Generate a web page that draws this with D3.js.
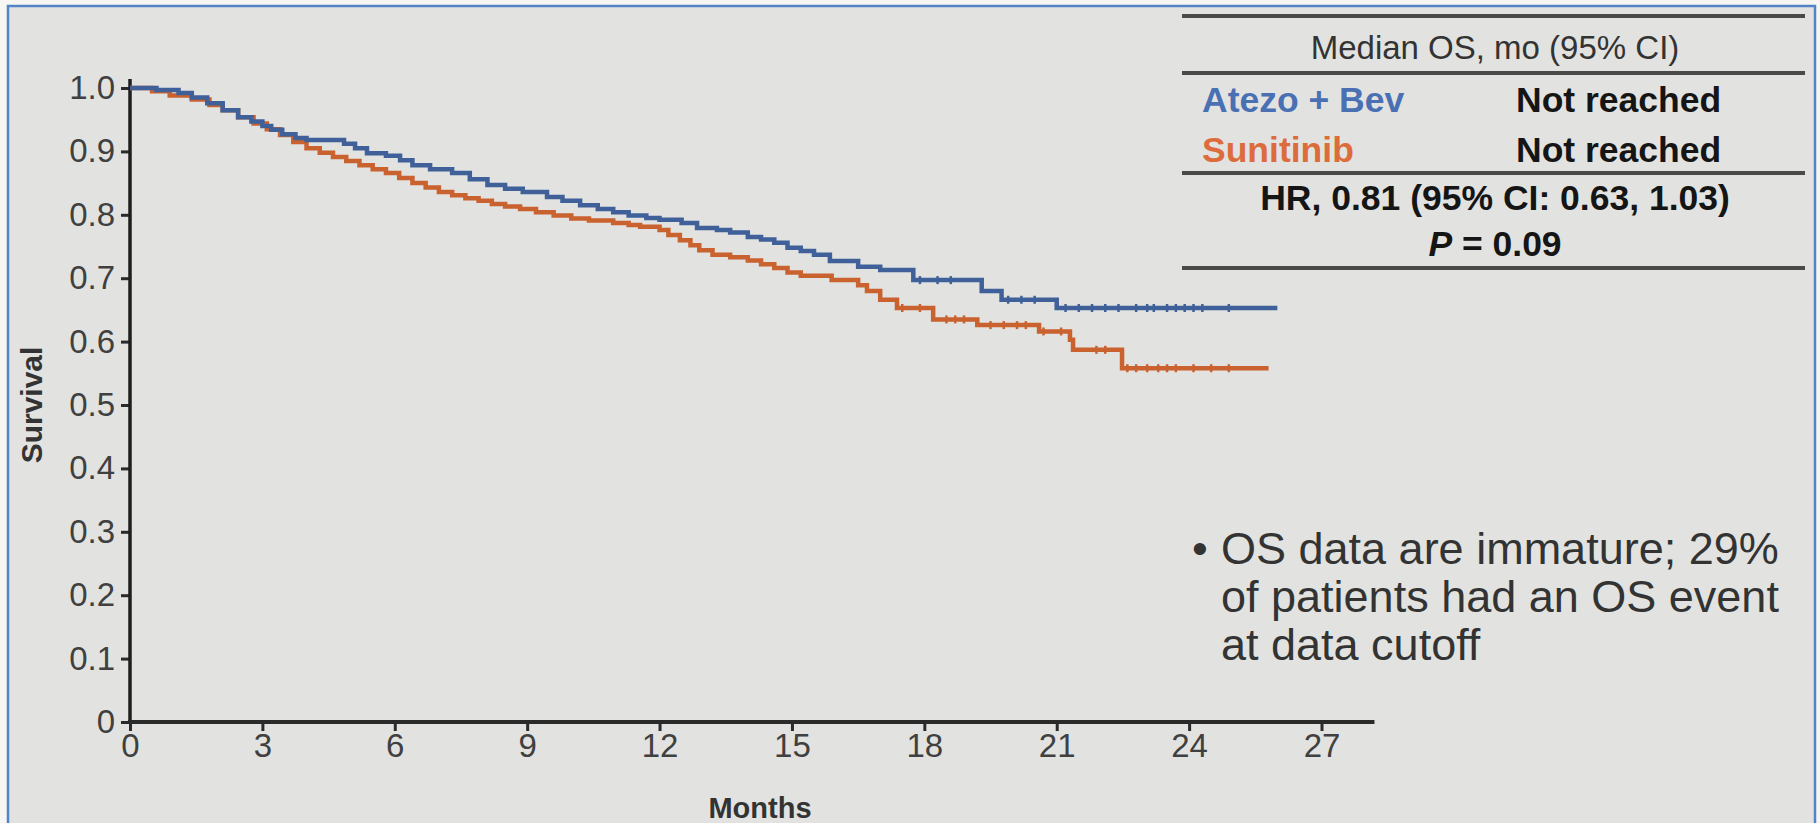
<!DOCTYPE html>
<html>
<head>
<meta charset="utf-8">
<script src="https://cdn.jsdelivr.net/npm/d3@7"></script>
<style>
  html, body { margin: 0; padding: 0; background: #f7f6f2; }
  svg { display: block; font-family: "Liberation Sans", Arial, Helvetica, sans-serif; }
</style>
</head>
<body>
<svg id="chart" width="1820" height="823"></svg>
<script>
// ---- Axis ticks ----
const monthTicks = [0, 3, 6, 9, 12, 15, 18, 21, 24, 27];
const survivalTicks = [0, 0.1, 0.2, 0.3, 0.4, 0.5, 0.6, 0.7, 0.8, 0.9, 1.0];

// ---- Kaplan-Meier step points: [month, survival] ----
const atezoBevSteps = [
  [0, 1.0], [0.6, 0.997], [1.1, 0.992], [1.4, 0.985], [1.75, 0.976], [2.1, 0.965],
  [2.45, 0.954], [2.75, 0.947], [3.0, 0.94], [3.2, 0.934], [3.45, 0.927], [3.75, 0.921],
  [4.0, 0.918], [4.85, 0.912], [5.1, 0.905], [5.37, 0.897], [5.8, 0.893], [6.12, 0.886],
  [6.4, 0.878], [6.8, 0.872], [7.3, 0.866], [7.7, 0.856], [8.1, 0.847], [8.5, 0.841],
  [8.9, 0.836], [9.45, 0.828], [9.8, 0.822], [10.2, 0.815], [10.6, 0.809], [10.95, 0.804],
  [11.3, 0.799], [11.7, 0.795], [12.0, 0.792], [12.5, 0.787], [12.85, 0.779], [13.3, 0.776],
  [13.6, 0.772], [14.0, 0.765], [14.3, 0.761], [14.6, 0.756], [14.9, 0.748], [15.2, 0.743],
  [15.5, 0.737], [15.86, 0.727], [16.5, 0.718], [17.0, 0.713], [17.75, 0.697], [19.3, 0.68],
  [19.75, 0.666], [21.0, 0.653]
];
const atezoBevLastFollowUp = 26.0;

const sunitinibSteps = [
  [0, 1.0], [0.5, 0.995], [0.9, 0.988], [1.4, 0.982], [1.8, 0.973], [2.1, 0.965],
  [2.45, 0.954], [2.8, 0.944], [3.1, 0.935], [3.4, 0.926], [3.7, 0.915], [4.0, 0.905],
  [4.3, 0.898], [4.6, 0.891], [4.9, 0.885], [5.2, 0.878], [5.5, 0.872], [5.8, 0.866],
  [6.1, 0.858], [6.4, 0.85], [6.7, 0.843], [7.0, 0.836], [7.3, 0.831], [7.6, 0.826],
  [7.9, 0.822], [8.2, 0.817], [8.5, 0.813], [8.84, 0.809], [9.2, 0.804], [9.6, 0.799],
  [10.0, 0.794], [10.4, 0.791], [10.95, 0.787], [11.3, 0.784], [11.56, 0.781], [12.0, 0.776],
  [12.2, 0.768], [12.46, 0.76], [12.7, 0.752], [12.9, 0.744], [13.2, 0.737], [13.6, 0.733],
  [14.0, 0.728], [14.3, 0.722], [14.6, 0.716], [14.9, 0.709], [15.2, 0.704], [15.9, 0.697],
  [16.5, 0.689], [16.7, 0.68], [17.0, 0.666], [17.38, 0.653], [18.2, 0.635], [19.2, 0.626],
  [20.6, 0.616], [21.3, 0.603], [21.37, 0.587], [22.48, 0.558]
];
const sunitinibLastFollowUp = 25.8;

// ---- Censoring times (months) ----
const atezoBevCensored = [17.9, 18.3, 18.6, 19.9, 20.2, 20.5, 21.2, 21.5, 21.8, 22.1, 22.4,
  22.8, 23.05, 23.2, 23.5, 23.7, 23.9, 24.1, 24.3, 24.9];
const sunitinibCensored = [17.5, 17.9, 18.5, 18.7, 18.9, 19.5, 19.8, 20.1, 20.3, 20.7, 21.1,
  21.9, 22.1, 22.6, 22.8, 23.05, 23.3, 23.5, 23.7, 24.1, 24.5, 24.9];

// ---- Table and note text ----
const tableHeader = "Median OS, mo (95% CI)";
const armNames = ["Atezo + Bev", "Sunitinib"];
const armMedians = ["Not reached", "Not reached"];
const hazardRatioText = "HR, 0.81 (95% CI: 0.63, 1.03)";
const pValueText = "0.09";
const noteLines = ["OS data are immature; 29%", "of patients had an OS event", "at data cutoff"];

const armColors = ["#3f6099", "#c9622f"];
const armLabelColors = ["#4a70b4", "#dd6c3c"];

const svg = d3.select("#chart");

// panel background and frame
svg.append("rect").attr("x", 8).attr("y", 6).attr("width", 1807).attr("height", 840)
  .attr("fill", "#e2e3e0").attr("stroke", "#5284c7").attr("stroke-width", 2.5);

const x = d3.scaleLinear().domain([0, 27]).range([130, 1321.5]);
const y = d3.scaleLinear().domain([0, 1]).range([722, 88]);

// ---- Axes ----
const xAxis = d3.axisBottom(x).tickValues(monthTicks).tickSize(9).tickPadding(3).tickSizeOuter(0);
const yAxis = d3.axisLeft(y).tickValues(survivalTicks).tickSize(9).tickPadding(6).tickSizeOuter(0)
  .tickFormat(d => d === 0 ? "0" : d3.format(".1f")(d));

const gx = svg.append("g").attr("transform", `translate(0,${y(0)})`).call(xAxis);
const gy = svg.append("g").attr("transform", `translate(${x(0)},0)`).call(yAxis);
[gx, gy].forEach(g => {
  g.select(".domain").remove();
  g.selectAll(".tick line").attr("stroke", "#2a2a2a").attr("stroke-width", 3);
  g.selectAll(".tick text").attr("fill", "#404040").attr("font-size", 33)
    .attr("font-family", "Liberation Sans, Arial, sans-serif");
});

// axis lines (the y axis runs slightly above 1.0, the x axis past 27)
svg.append("line").attr("x1", x(0)).attr("x2", x(0)).attr("y1", y(0)).attr("y2", y(1) - 9)
  .attr("stroke", "#1e1e1e").attr("stroke-width", 3.5);
svg.append("line").attr("x1", x(0) - 2).attr("x2", x(28.2)).attr("y1", y(0)).attr("y2", y(0))
  .attr("stroke", "#2a2a2a").attr("stroke-width", 4);

// axis titles
svg.append("text").attr("transform", `translate(31,${y(0.5)}) rotate(-90)`)
  .attr("text-anchor", "middle").attr("dominant-baseline", "central")
  .attr("font-size", 30).attr("font-weight", "bold").attr("fill", "#333").text("Survival");
svg.append("text").attr("x", 760).attr("y", 818)
  .attr("text-anchor", "middle").attr("font-size", 29).attr("font-weight", "bold").attr("fill", "#333")
  .text("Months");

// ---- Curves ----
const line = d3.line().x(d => x(d[0])).y(d => y(d[1])).curve(d3.curveStepAfter);
const arms = [
  { steps: atezoBevSteps, end: atezoBevLastFollowUp, censored: atezoBevCensored },
  { steps: sunitinibSteps, end: sunitinibLastFollowUp, censored: sunitinibCensored }
];
function survivalAt(steps, t) {
  const i = d3.bisector(d => d[0]).right(steps, t) - 1;
  return steps[Math.max(0, i)][1];
}
// draw sunitinib first so the blue arm sits on top where they overlap
[1, 0].forEach(k => {
  const a = arms[k];
  const pts = a.steps.concat([[a.end, a.steps[a.steps.length - 1][1]]]);
  svg.append("path").datum(pts).attr("d", line).attr("fill", "none")
    .attr("stroke", armColors[k]).attr("stroke-width", 4.5).attr("stroke-linejoin", "miter");
  svg.append("g").selectAll("line").data(a.censored).join("line")
    .attr("x1", d => x(d)).attr("x2", d => x(d))
    .attr("y1", d => y(survivalAt(a.steps, d)) - 4).attr("y2", d => y(survivalAt(a.steps, d)) + 4)
    .attr("stroke", armColors[k]).attr("stroke-width", 2.5);
});

// ---- Median OS table ----
const tLeft = 1182, tRight = 1805, tCenter = 1495;
[16, 73, 173, 268].forEach(ty => {
  svg.append("line").attr("x1", tLeft).attr("x2", tRight).attr("y1", ty).attr("y2", ty)
    .attr("stroke", "#4a4a4a").attr("stroke-width", 4);
});
svg.append("text").attr("x", tCenter).attr("y", 59).attr("text-anchor", "middle")
  .attr("font-size", 33).attr("fill", "#333").text(tableHeader);
armNames.forEach((name, i) => {
  const by = 112 + i * 50;
  svg.append("text").attr("x", 1202).attr("y", by).attr("font-size", 35.5).attr("font-weight", "bold")
    .attr("fill", armLabelColors[i]).text(name);
  svg.append("text").attr("x", 1516).attr("y", by).attr("font-size", 35.5).attr("font-weight", "bold")
    .attr("fill", "#151515").text(armMedians[i]);
});
svg.append("text").attr("x", tCenter).attr("y", 210).attr("text-anchor", "middle")
  .attr("font-size", 35.5).attr("font-weight", "bold").attr("fill", "#151515").text(hazardRatioText);
const pt = svg.append("text").attr("x", tCenter).attr("y", 256).attr("text-anchor", "middle")
  .attr("font-size", 35.5).attr("font-weight", "bold").attr("fill", "#151515");
pt.append("tspan").attr("font-style", "italic").text("P");
pt.append("tspan").text(" = " + pValueText);

// ---- Note ----
svg.append("text").attr("x", 1192).attr("y", 564).attr("font-size", 45).attr("fill", "#333").text("•");
noteLines.forEach((t, i) => {
  svg.append("text").attr("x", 1221).attr("y", 564 + i * 48).attr("font-size", 45).attr("fill", "#333").text(t);
});
</script>
</body>
</html>
